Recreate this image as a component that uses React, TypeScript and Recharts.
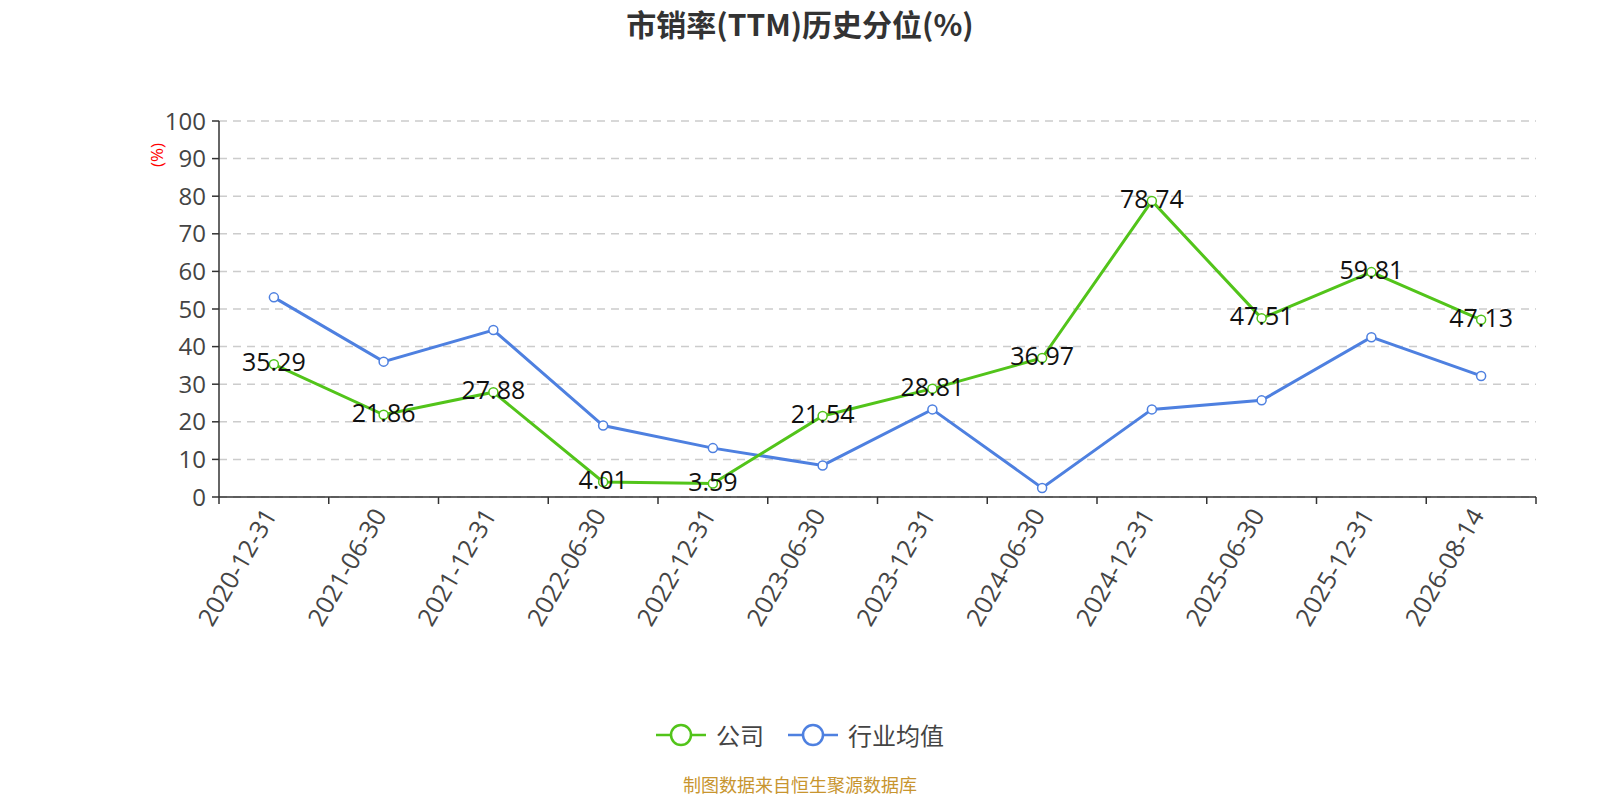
import React from "react";
import { LineChart, Line, XAxis, YAxis, CartesianGrid, LabelList } from "recharts";

const dates = [
  "2020-12-31", "2021-06-30", "2021-12-31", "2022-06-30", "2022-12-31", "2023-06-30",
  "2023-12-31", "2024-06-30", "2024-12-31", "2025-06-30", "2025-12-31", "2026-08-14",
];
const company = [35.29, 21.86, 27.88, 4.01, 3.59, 21.54, 28.81, 36.97, 78.74, 47.51, 59.81, 47.13];
const industry = [53.1, 36.0, 44.4, 19.0, 13.0, 8.4, 23.3, 2.4, 23.3, 25.7, 42.5, 32.2];
const yTicks = [0, 10, 20, 30, 40, 50, 60, 70, 80, 90, 100];
const seriesNames = ["公司", "行业均值"];

const GREEN = "#52c41a";
const BLUE = "#4e80e0";
const FONT = "'Open Sans', 'Noto Sans CJK SC', sans-serif";
const CJK = "'Noto Sans CJK SC', sans-serif";

const W = 1600;
const H = 800;
const PLOT_LEFT = 219;
const PLOT_RIGHT = 64;
const PLOT_TOP = 121;
const PLOT_BOTTOM = 303;
const BAND = (W - PLOT_LEFT - PLOT_RIGHT) / dates.length;

const rows = dates.map((d, i) => ({ date: d, company: company[i], industry: industry[i] }));

const XTick = (props: any) => {
  const { x, y, payload, index } = props;
  const last = index === dates.length - 1;
  const ax = x - 5;
  const ay = y + 13;
  return (
    <g>
      <line x1={x - BAND / 2} x2={x - BAND / 2} y1={y} y2={y + 7} stroke="#333" strokeWidth={1.5} />
      {last && <line x1={x + BAND / 2} x2={x + BAND / 2} y1={y} y2={y + 7} stroke="#333" strokeWidth={1.5} />}
      <text
        x={ax}
        y={ay}
        textAnchor="end"
        dominantBaseline="central"
        transform={`rotate(-60, ${ax}, ${ay})`}
        fill="#444"
        fontSize={25}
        fontFamily={FONT}
      >
        {payload.value}
      </text>
    </g>
  );
};

const ValueLabel = (props: any) => {
  const { x, y, value } = props;
  return (
    <text x={x} y={y - 3} textAnchor="middle" dominantBaseline="central" fill="#111" fontSize={25} fontFamily={FONT}>
      {value}
    </text>
  );
};

const UnitLabel = (props: any) => {
  const { viewBox } = props;
  const cx = viewBox.x - 3;
  const cy = viewBox.y + 34;
  return (
    <text
      x={cx}
      y={cy}
      textAnchor="middle"
      dominantBaseline="central"
      transform={`rotate(-90, ${cx}, ${cy})`}
      fill="red"
      fontSize={17}
      fontFamily={FONT}
    >
      (%)
    </text>
  );
};

const LegendItem = ({ color, name }: { color: string; name: string }) => (
  <div style={{ display: "flex", alignItems: "center", marginLeft: 12, marginRight: 12 }}>
    <svg width={50} height={24}>
      <line x1={0} x2={50} y1={12} y2={12} stroke={color} strokeWidth={2.5} />
      <circle cx={25} cy={12} r={10} fill="#fff" stroke={color} strokeWidth={2.5} />
    </svg>
    <span style={{ marginLeft: 10, fontSize: 24, color: "#444", fontFamily: CJK, lineHeight: "24px" }}>{name}</span>
  </div>
);

export default function App() {
  return (
    <div style={{ position: "absolute", left: 0, top: 0, width: W, height: H, background: "#fff", overflow: "hidden" }}>
      <div
        style={{
          position: "absolute",
          top: 5,
          left: 0,
          width: W,
          textAlign: "center",
          fontSize: 30,
          lineHeight: "36px",
          fontWeight: "bold",
          color: "#333",
          fontFamily: CJK,
        }}
      >
        市销率(TTM)历史分位(%)
      </div>
      <LineChart
        width={W}
        height={H}
        data={rows}
        margin={{ top: PLOT_TOP, right: PLOT_RIGHT, bottom: 0, left: PLOT_LEFT - 60 }}
      >
        <CartesianGrid vertical={false} stroke="#ccc" strokeDasharray="8 6" strokeWidth={1.5} />
        <XAxis
          dataKey="date"
          height={PLOT_BOTTOM}
          axisLine={{ stroke: "#333", strokeWidth: 1.5 }}
          tickLine={false}
          tickSize={0}
          tickMargin={0}
          interval={0}
          padding={{ left: BAND / 2, right: BAND / 2 }}
          tick={<XTick />}
        />
        <YAxis
          width={60}
          domain={[0, 100]}
          ticks={yTicks}
          interval={0}
          axisLine={{ stroke: "#333", strokeWidth: 1.5 }}
          tickLine={{ stroke: "#333", strokeWidth: 1.5 }}
          tickSize={7}
          tickMargin={6}
          tick={{ fill: "#444", fontSize: 24, fontFamily: FONT }}
          label={<UnitLabel />}
        />
        <Line
          dataKey="industry"
          name={seriesNames[1]}
          stroke={BLUE}
          strokeWidth={3}
          dot={{ r: 4.5, fill: "#fff", stroke: BLUE, strokeWidth: 1.5 }}
          activeDot={false}
          isAnimationActive={false}
        />
        <Line
          dataKey="company"
          name={seriesNames[0]}
          stroke={GREEN}
          strokeWidth={3}
          dot={{ r: 4.5, fill: "#fff", stroke: GREEN, strokeWidth: 1.5 }}
          activeDot={false}
          isAnimationActive={false}
        >
          <LabelList dataKey="company" content={<ValueLabel />} />
        </Line>
      </LineChart>
      <div
        style={{
          position: "absolute",
          top: 723,
          left: 0,
          width: W,
          display: "flex",
          justifyContent: "center",
        }}
      >
        <LegendItem color={GREEN} name={seriesNames[0]} />
        <LegendItem color={BLUE} name={seriesNames[1]} />
      </div>
      <div
        style={{
          position: "absolute",
          top: 772,
          left: 0,
          width: W,
          textAlign: "center",
          fontSize: 18,
          lineHeight: "24px",
          color: "#c8952f",
          fontFamily: CJK,
        }}
      >
        制图数据来自恒生聚源数据库
      </div>
    </div>
  );
}
